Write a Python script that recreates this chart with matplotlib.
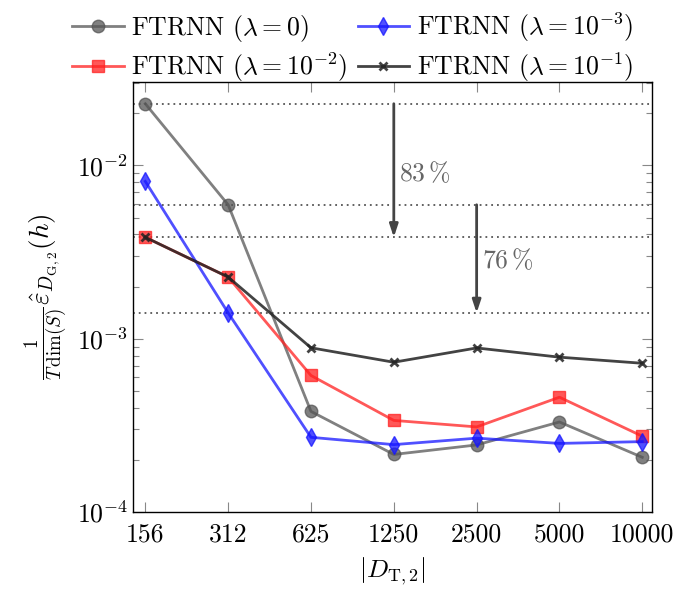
import matplotlib
matplotlib.use("Agg")
import matplotlib.pyplot as plt
import numpy as np

plt.rcParams['font.family'] = 'serif'
plt.rcParams['font.serif'] = ['cmr10']
plt.rcParams['mathtext.fontset'] = 'cm'
plt.rcParams['axes.unicode_minus'] = False
plt.rcParams['axes.formatter.use_mathtext'] = True

categories = ["156", "312", "625", "1250", "2500", "5000", "10000"]
lam0 = [0.0227, 0.00593, 0.000381, 0.000215, 0.000244, 0.000331, 0.000207]
lam3 = [0.00809, 0.00141, 0.000270, 0.000245, 0.000267, 0.000249, 0.000255]
lam2 = [0.00385, 0.00227, 0.000614, 0.000338, 0.000310, 0.000460, 0.000274]
lam1 = [0.00385, 0.00227, 0.000887, 0.000732, 0.000885, 0.000783, 0.000722]
ref_levels = [0.0227, 0.00593, 0.00385, 0.00141]
arrows = [(3, 0.0227, 0.00385, "83$\\,$%", 0.0090), (4, 0.00593, 0.00141, "76$\\,$%", 0.00283)]

x = np.arange(len(categories))
fs = 18.5

fig = plt.figure(figsize=(6.78, 5.92), dpi=100)
ax = fig.add_axes([0.196, 0.135, 0.766, 0.7265])
ax.set_yscale('log')

for lv in ref_levels:
    ax.axhline(lv, color='#555555', linestyle=(0, (1, 2.2)), linewidth=1.3, zorder=1)

l0, = ax.plot(x, lam0, color='#555555', alpha=0.75, lw=2, marker='o', ms=9,
              label=r'FTRNN ($\lambda=0$)', zorder=3)
l2, = ax.plot(x, lam2, color='#ff2020', alpha=0.75, lw=2, marker='s', ms=9,
              label=r'FTRNN ($\lambda=10^{-2}$)', zorder=3)
l3, = ax.plot(x, lam3, color='#1515ff', alpha=0.75, lw=2, marker='d', ms=9,
              label=r'FTRNN ($\lambda=10^{-3}$)', zorder=3)
l1, = ax.plot(x, lam1, color='#222222', alpha=0.85, lw=2, marker='x', ms=5.5, mew=2,
              label=r'FTRNN ($\lambda=10^{-1}$)', zorder=4)

for xi, ytop, ybot, txt, ytxt in arrows:
    ax.annotate('', xy=(xi, ybot), xytext=(xi, ytop),
                arrowprops=dict(arrowstyle='-|>,head_length=0.75,head_width=0.25',
                                color='#444444', lw=2, shrinkA=0, shrinkB=0), zorder=5)
    ax.text(xi + 0.06, ytxt, txt, fontsize=fs, color='#666666', va='center', ha='left')

ax.set_xlim(-0.15, 6.12)
ax.set_ylim(1e-4, 0.0303)
ax.set_xticks(x)
ax.set_xticklabels(categories, fontsize=fs)
ax.tick_params(axis='both', which='both', direction='in', top=True, right=True,
               color='#888888', labelsize=fs)
ax.tick_params(axis='both', which='major', length=7, width=0.8)
ax.tick_params(axis='y', which='minor', length=4, width=0.8)
ax.tick_params(axis='x', pad=8)
for s in ax.spines.values():
    s.set_linewidth(1.0)

ax.set_xlabel(r'$|D_{\mathrm{T},2}|$', fontsize=fs, labelpad=6)
ax.set_ylabel(r'$\frac{1}{T\,\dim(S)}\hat{\varepsilon}_{D_{\mathrm{G},2}}(h)$', fontsize=fs + 1, labelpad=4)

fig.legend(handles=[l0, l2, l3, l1], ncol=2, frameon=False, fontsize=fs,
           loc='upper center', bbox_to_anchor=(0.52, 1.008), columnspacing=0.4,
           handlelength=2.0, handletextpad=0.3, labelspacing=0.25, borderaxespad=0.2)

fig.savefig('out.png', dpi=100)
